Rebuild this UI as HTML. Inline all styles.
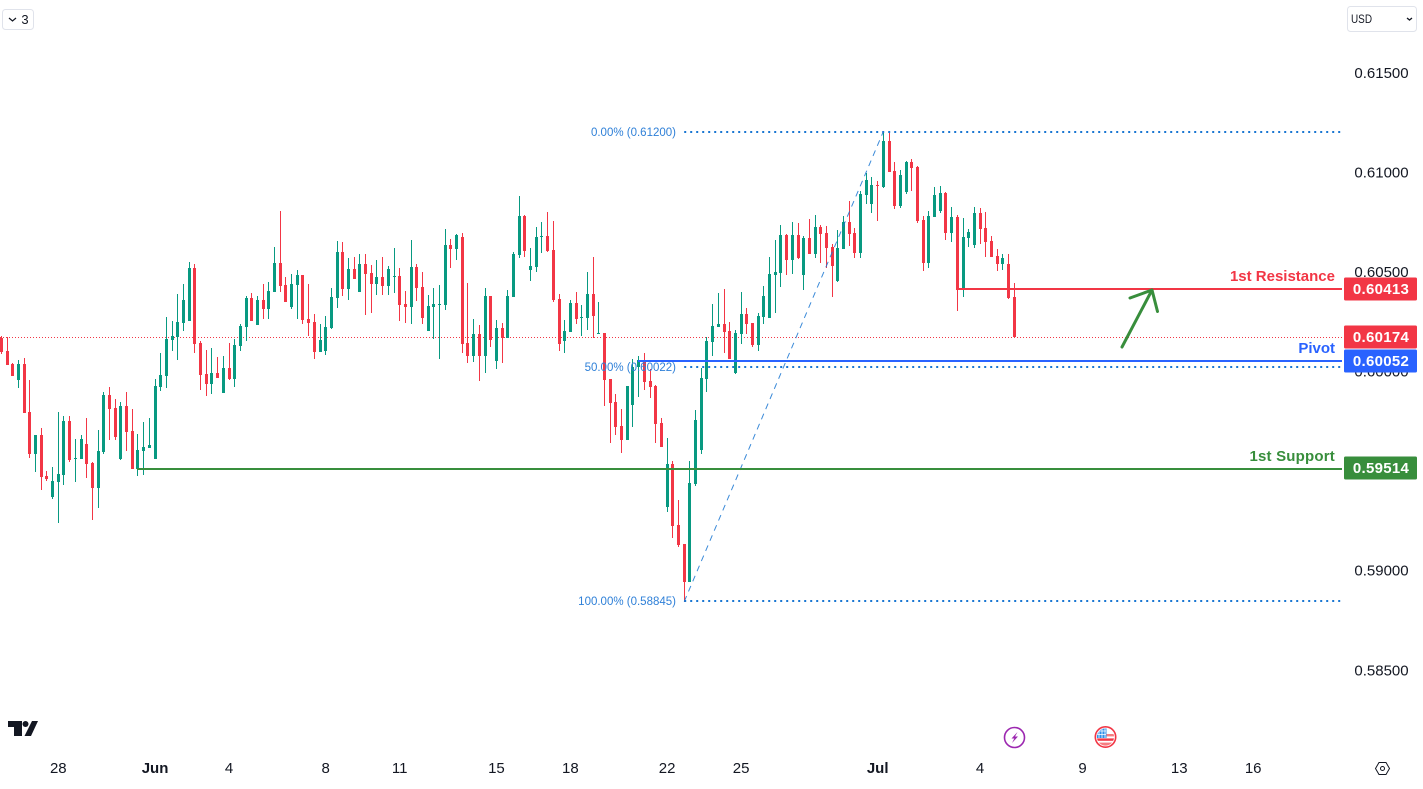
<!DOCTYPE html>
<html lang="en">
<head>
<meta charset="utf-8">
<title>AUD/USD candlestick chart with pivot levels</title>
<style>
  html, body { margin: 0; padding: 0; background: #ffffff; }
  body { width: 1423px; height: 789px; overflow: hidden; position: relative; }
  svg { display: block; position: absolute; left: 0; top: 0; }
  text { font-family: "Liberation Sans", sans-serif; }
</style>
</head>
<body>
<svg id="chart" width="1423" height="789" viewBox="0 0 1423 789" xmlns="http://www.w3.org/2000/svg">
  <g id="last-price-layer"></g>
  <g id="candles"></g>
  <g id="drawings"></g>
  <g id="price-axis"></g>
  <g id="time-axis"></g>

  <path d="M1122 347 L1152 290 M1130 298 L1152 290 L1157.5 311.5" fill="none" stroke="#388e3c" stroke-width="3" stroke-linecap="round" stroke-linejoin="round"/>

  <g>
    <rect x="2.5" y="9.5" width="31" height="20" rx="3" fill="#fff" stroke="#e0e3eb"/>
    <path d="M9 18 L12.5 21 L16 18" fill="none" stroke="#131722" stroke-width="1.2"/>
    <text x="25" y="24" font-size="13" text-anchor="middle" fill="#131722">3</text>
  </g>

  <g>
    <rect x="1347.5" y="6.5" width="69" height="25" rx="3" fill="#fff" stroke="#e0e3eb"/>
    <text x="1351" y="23" font-size="12" textLength="21" lengthAdjust="spacingAndGlyphs" fill="#131722">USD</text>
    <path d="M1407 18 L1409.5 20 L1412 18" fill="none" stroke="#131722" stroke-width="1.3"/>
  </g>

  <g fill="#131722">
    <path d="M8 721 H22 V736 H14 V727 H8 Z"/>
    <circle cx="25.5" cy="724" r="3"/>
    <path d="M32 721 H38 L31 736 H24.5 Z"/>
  </g>

  <g>
    <circle cx="1014.5" cy="737.5" r="10" fill="#fff" stroke="#9c27b0" stroke-width="1.6"/>
    <path d="M1017.5 732 L1011.5 738.5 H1014.3 L1012 743 L1018 736.5 H1015 Z" fill="#9c27b0"/>
  </g>

  <g>
    <clipPath id="flagClip"><circle cx="1105.5" cy="737" r="8.6"/></clipPath>
    <circle cx="1105.5" cy="737" r="10.2" fill="#fff" stroke="#f23645" stroke-width="1.6"/>
    <g clip-path="url(#flagClip)">
      <rect x="1096" y="734" width="19" height="2.4" fill="#f77c80"/>
      <rect x="1096" y="738.4" width="19" height="2.4" fill="#f23645"/>
      <rect x="1096" y="742.6" width="19" height="4" fill="#f77c80"/>
      <rect x="1096" y="728" width="10.5" height="10" fill="#2f8fe8"/>
      <path d="M1099 728 V738 M1102 728 V738 M1105 728 V738 M1096 731 H1106 M1096 734.5 H1106" stroke="#ffffff" stroke-width="0.8"/>
    </g>
  </g>

  <g>
    <path d="M1375.5 768.5 L1379 762.5 H1386 L1389.5 768.5 L1386 774.5 H1379 Z" fill="#fff" stroke="#131722" stroke-width="1"/>
    <circle cx="1382.5" cy="768.5" r="2" fill="none" stroke="#131722" stroke-width="1"/>
  </g>
</svg>

<script>
// Prices are stored in points: 1 point = 0.00001
const candleOpens = [
60170,60103,60038,59958,60038,59797,59586,59681,59475,59370,
59445,59480,59752,59561,59561,59636,59541,59415,59596,59882,
59817,59561,59827,59701,59511,59601,59616,59561,59922,59978,
60159,60174,60244,60254,60520,60144,59988,59938,59993,59892,
60018,59963,60128,60224,60370,60234,60360,60314,60400,60545,
60435,60324,60435,60485,60264,60249,60098,60103,60219,60370,
60601,60415,60515,60400,60540,60495,60440,60475,60430,60475,
60480,60339,60324,60525,60425,60204,60324,60334,60334,60636,
60616,60676,60144,60078,60189,60078,60380,60053,60219,60169,
60375,60586,60781,60510,60525,60676,60681,60611,60365,60154,
60199,60344,60269,60269,60390,60189,60194,59963,59848,59727,
59657,59832,60023,60058,59953,59928,59742,59320,59536,59230,
59134,58943,59436,59606,59963,60149,60224,60239,60204,59993,
60189,60290,60244,60134,60274,60269,60485,60495,60686,60561,
60686,60485,60671,60591,60727,60696,60626,60455,60616,60752,
60696,60596,60887,60842,60938,60927,61159,61008,60832,60902,
61053,61028,60762,60546,60777,60807,60897,60696,60777,60410,
60671,60636,60797,60722,60656,60581,60541,60541,60375];
const candleHighs = [
60179,60175,60043,60058,60068,59958,59681,59717,59501,59521,
59797,59777,59777,59661,59681,59767,59546,59707,59897,59922,
59862,59847,59897,59812,59686,59747,59767,59963,60093,60274,
60254,60390,60440,60550,60540,60154,60108,60118,60073,60078,
60144,60164,60239,60380,60395,60380,60440,60450,60626,60807,
60475,60490,60510,60485,60440,60289,60239,60279,60420,60656,
60651,60570,60575,60591,60591,60535,60560,60575,60530,60621,
60520,60405,60661,60540,60500,60385,60420,60435,60716,60666,
60691,60696,60445,60264,60234,60420,60380,60259,60244,60410,
60601,60882,60786,60621,60726,60751,60801,60756,60390,60259,
60360,60400,60334,60500,60575,60349,60194,59963,59888,59812,
59928,60064,60079,60094,60013,59933,59767,59667,59551,59355,
59134,59551,59807,60018,60174,60340,60395,60415,60249,60209,
60400,60320,60244,60295,60430,60576,60661,60737,60691,60752,
60747,60681,60767,60787,60737,60732,60641,60711,60782,60857,
60722,60907,60998,60978,60958,61200,61200,61053,61013,61058,
61068,61033,60782,60807,60927,60932,60902,60827,60787,60772,
60717,60827,60822,60802,60681,60616,60591,60591,60445];
const candleLows = [
60088,60033,59978,59917,59792,59566,59496,59405,59450,59360,
59239,59430,59546,59445,59561,59465,59254,59315,59586,59656,
59656,59556,59601,59511,59475,59480,59616,59561,59902,59917,
60103,60058,60204,60254,60093,59907,59877,59887,59968,59892,
59958,59922,60103,60154,60254,60234,60264,60264,60400,60400,
60349,60314,60264,60239,60179,60063,60098,60083,60214,60319,
60380,60360,60465,60400,60284,60294,60385,60385,60385,60395,
60254,60244,60239,60354,60239,60204,60164,60063,60309,60520,
60560,60093,60043,60048,59953,59993,60123,60013,60043,60169,
60375,60570,60575,60455,60500,60596,60601,60349,60103,60093,
60199,60239,60179,60209,60169,60189,59827,59642,59682,59591,
59657,59722,59873,59908,59868,59642,59622,59295,59164,59119,
58845,58943,59426,59586,59898,60079,60224,60094,60064,59988,
60139,60189,60124,60104,60239,60269,60295,60425,60485,60490,
60566,60410,60591,60571,60546,60521,60375,60450,60616,60631,
60571,60571,60842,60797,60757,60922,61003,60817,60822,60892,
60907,60747,60506,60521,60777,60797,60661,60651,60305,60375,
60626,60621,60641,60576,60576,60506,60511,60365,60169];
const candleCloses = [
60098,60033,59978,60038,59792,59586,59681,59470,59460,59450,
59485,59752,59556,59566,59661,59536,59415,59601,59882,59812,
59671,59827,59696,59511,59606,59621,59631,59928,59983,60164,
60179,60249,60360,60520,60138,59983,59938,59993,59968,60018,
59963,60133,60229,60370,60254,60360,60314,60405,60545,60430,
60349,60440,60485,60259,60244,60098,60159,60224,60375,60601,
60415,60515,60465,60540,60490,60440,60475,60430,60515,60480,
60334,60324,60525,60420,60269,60329,60339,60339,60636,60616,
60686,60138,60078,60189,60078,60380,60159,60219,60169,60380,
60591,60781,60606,60530,60676,60681,60606,60360,60138,60204,
60344,60264,60274,60390,60279,60194,59958,59843,59722,59657,
59928,60023,60058,59948,59923,59737,59622,59536,59225,59129,
58943,59441,59757,59968,60154,60229,60239,60199,60064,60194,
60290,60239,60134,60280,60380,60490,60500,60686,60561,60686,
60571,60671,60591,60727,60691,60621,60531,60621,60752,60691,
60596,60892,60963,60938,60932,61159,61003,60832,60988,61053,
61023,60757,60546,60782,60887,60897,60696,60777,60410,60676,
60701,60797,60717,60651,60576,60541,60571,60370,60174];

const priceTicks = [61500, 61000, 60500, 60000, 59500, 59000, 58500];
const priceTickLabels = ["0.61500", "0.61000", "0.60500", "0.60000", "0.59500", "0.59000", "0.58500"];

const timeTickCandles = [10, 27, 40, 57, 70, 87, 100, 117, 130, 154, 172, 190, 207, 220];
const timeTickLabels = ["28", "Jun", "4", "8", "11", "15", "18", "22", "25", "Jul", "4", "9", "13", "16"];
const timeTickBold = ["Jun", "Jul"];

const lastPrice = 60174;
const resistancePrice = 60413;
const pivotPrice = 60052;
const supportPrice = 59514;
const resistanceStart = 168;
const pivotStart = 112;
const supportStart = 24;

const fibPrices = [61200, 60022, 58845];
const fibLabels = ["0.00% (0.61200)", "50.00% (0.60022)", "100.00% (0.58845)"];
const fibStart = 120;
const fibEnd = 155;

const SVG_NS = "http://www.w3.org/2000/svg";
const PLOT_RIGHT = 1342;
function xScale(i) { return 1.4 + 5.69 * i; }
function yScale(p) { return 73 + (61500 - p) / 5.023; }
function make(tag, parent) {
  const el = document.createElementNS(SVG_NS, tag);
  parent.appendChild(el);
  return el;
}
function setAll(el, props) {
  Object.keys(props).forEach(function (k) { el.setAttribute(k, props[k]); });
}
function fmt(p) { return (p / 100000).toFixed(5); }

const GREEN = "#089981", RED = "#f23645", BLUE = "#2962ff", SUP = "#388e3c", FIB = "#1976d2";

// last-price dotted line
const lastLayer = document.getElementById("last-price-layer");
const lastLine = make("line", lastLayer);


setAll(lastLine, { x1: 0, x2: PLOT_RIGHT, y1: Math.round(yScale(lastPrice)) + 0.5, y2: Math.round(yScale(lastPrice)) + 0.5, stroke: RED, "stroke-width": 1, "stroke-dasharray": "1 2" });

// candles
const candleLayer = document.getElementById("candles");
candleOpens.forEach(function (open, i) {
  const close = candleCloses[i];
  const up = close >= open;
  const color = up ? GREEN : RED;
  const px = Math.floor(xScale(i));
  const yHigh = Math.round(yScale(candleHighs[i]));
  const yLow = Math.round(yScale(candleLows[i]));
  const yTop = Math.round(yScale(Math.max(open, close)));
  const yBot = Math.round(yScale(Math.min(open, close)));
  const wick = make("rect", candleLayer);
  
  
  setAll(wick, { x: px, y: yHigh, width: 1, height: Math.max(1, yLow - yHigh), fill: color });
  const body = make("rect", candleLayer);
  
  
  setAll(body, { x: px - 1, y: yTop, width: 3, height: Math.max(1, yBot - yTop), fill: color });
});

// drawings
const drawLayer = document.getElementById("drawings");

const trend = make("line", drawLayer);


setAll(trend, { x1: xScale(fibStart), y1: yScale(fibPrices[2]), x2: xScale(fibEnd) - 0.5, y2: yScale(fibPrices[0]), stroke: "#1976d2", "stroke-width": 1, "stroke-dasharray": "6 5", opacity: 0.85 });

fibPrices.forEach(function (p, i) {
  const y = Math.round(yScale(p) - 0.3);
  const line = make("line", drawLayer);
  
  
  setAll(line, { x1: xScale(fibStart), x2: PLOT_RIGHT, y1: y, y2: y, stroke: FIB, "stroke-width": 2, "stroke-dasharray": "2 4" });
  const label = make("text", drawLayer);
  
  
  setAll(label, { x: 676, y: y + 4, "text-anchor": "end", "font-size": "11.5", fill: "#2f80d8" });
  label.textContent = fibLabels[i];
});

const pivotLine = make("rect", drawLayer);


setAll(pivotLine, { x: Math.floor(xScale(pivotStart)), y: Math.round(yScale(pivotPrice)) - 1, width: PLOT_RIGHT - Math.floor(xScale(pivotStart)), height: 2, fill: BLUE });

const resistanceLine = make("rect", drawLayer);


setAll(resistanceLine, { x: Math.floor(xScale(resistanceStart)), y: Math.round(yScale(resistancePrice)) - 1, width: PLOT_RIGHT - Math.floor(xScale(resistanceStart)), height: 2, fill: RED });

const supportLine = make("rect", drawLayer);


setAll(supportLine, { x: Math.floor(xScale(supportStart)), y: Math.round(yScale(supportPrice)), width: PLOT_RIGHT - Math.floor(xScale(supportStart)), height: 2, fill: SUP });

const resistanceText = make("text", drawLayer);


setAll(resistanceText, { x: 1335, y: 281, "text-anchor": "end", "font-size": "15", "font-weight": "bold", fill: RED });
resistanceText.textContent = "1st Resistance";

const pivotText = make("text", drawLayer);


setAll(pivotText, { x: 1335, y: 353, "text-anchor": "end", "font-size": "15", "font-weight": "bold", fill: BLUE });
pivotText.textContent = "Pivot";

const supportText = make("text", drawLayer);


setAll(supportText, { x: 1335, y: 461, "text-anchor": "end", "font-size": "15", "font-weight": "bold", "letter-spacing": "0.2", fill: SUP });
supportText.textContent = "1st Support";

// price axis
const priceAxis = document.getElementById("price-axis");
priceTicks.forEach(function (p, i) {
  const t = make("text", priceAxis);
  
  
  setAll(t, { x: 1381.5, y: yScale(p) + 5, "text-anchor": "middle", "font-size": "15", fill: "#131722" });
  t.textContent = priceTickLabels[i];
});

function priceTag(price, color, name) {
  const y = Math.round(yScale(price));
  const r = make("rect", priceAxis);
  
  
  setAll(r, { x: 1344, y: y - 11.5, width: 73, height: 23, rx: 1.5, fill: color });
  const t = make("text", priceAxis);
  
  
  setAll(t, { x: 1381, y: y + 5, "text-anchor": "middle", "font-size": "15", "font-weight": "bold", "letter-spacing": "0.3", fill: "#ffffff" });
  t.textContent = fmt(price);
}
priceTag(resistancePrice, RED, "resistance-price-tag");
priceTag(lastPrice, RED, "last-price-tag");
priceTag(pivotPrice, BLUE, "pivot-price-tag");
priceTag(supportPrice, SUP, "support-price-tag");

// time axis
const timeAxis = document.getElementById("time-axis");
timeTickCandles.forEach(function (c, i) {
  const t = make("text", timeAxis);
  
  
  const bold = timeTickBold.indexOf(timeTickLabels[i]) >= 0;
  setAll(t, { x: xScale(c), y: 773, "text-anchor": "middle", "font-size": "15", fill: "#131722", "font-weight": bold ? "bold" : "normal" });
  t.textContent = timeTickLabels[i];
});
</script>
</body>
</html>
